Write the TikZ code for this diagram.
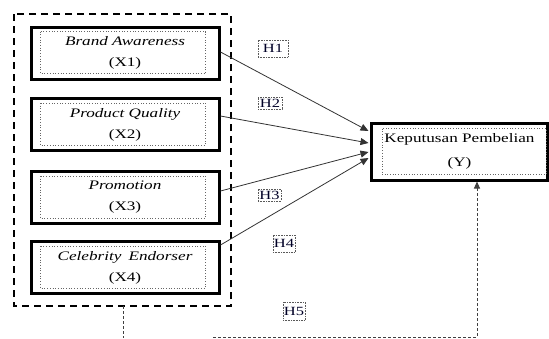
\documentclass[tikz,border=0pt]{standalone}
\usepackage{fontspec}
\setmainfont{Liberation Serif}
\usepackage{graphicx}
\usetikzlibrary{calc,arrows.meta}
\newcommand\widetxt[1]{\scalebox{1.32}[1]{#1}}
\tikzset{
  varbox/.style={draw=black,line width=3pt,minimum width=188pt,minimum height=52pt,inner sep=0pt,
     align=center,font=\fontsize{13}{21}\selectfont},
  ybox/.style={draw=black,line width=3pt,minimum width=176pt,minimum height=57pt,inner sep=0pt,
     align=center,font=\fontsize{13}{24}\selectfont},
  innerdot/.style={draw=gray!80!black,line width=0.7pt,dotted},
  hbox/.style={draw=gray!70!black,line width=0.6pt,densely dotted,inner sep=1pt,font=\fontsize{12.5}{13}\selectfont,text=black!85!blue},
  hyp/.style={draw=black!80,line width=0.8pt,-{Triangle[length=8pt,width=7pt]}},
  grp/.style={draw=black,line width=2pt,dash pattern=on 7pt off 5pt},
  med/.style={draw=black!75,line width=1pt,dash pattern=on 3pt off 2pt},
}
\begin{document}
\begin{tikzpicture}[x=1pt,y=-1pt]
\useasboundingbox (0,0) rectangle (549,338);
% group box
\draw[grp] (14,14) rectangle (231,306);
\coordinate (gb) at (123,306);
% variable boxes
\node[varbox] (b1) at (125,53) {\widetxt{\itshape Brand Awareness}\\\widetxt{(X1)}};
\node[varbox] (b2) at (125,124.5) {\widetxt{\itshape Product Quality}\\\widetxt{(X2)}};
\node[varbox] (b3) at (125,197.5) {\widetxt{\itshape Promotion}\\\widetxt{(X3)}};
\node[varbox] (b4) at (125,267.5) {\widetxt{\itshape Celebrity\, Endorser}\\\widetxt{(X4)}};
\foreach \b in {b1,b2,b3,b4}{
  \draw[innerdot] ($(\b.north west)+(11,6)$) rectangle ($(\b.south east)+(-15,-7)$);
}
% dependent box
\node[ybox] (y) at (459.5,151.5) {\widetxt{Keputusan Pembelian}\\\widetxt{(Y)}};
\draw[innerdot] ($(y.north west)+(12,7)$) rectangle ($(y.south east)+(-3,-7)$);
% hypothesis arrows
\draw[hyp] ([yshift=1pt]b1.east) -- ([yshift=20.5pt,xshift=-1.5pt]y.west);
\draw[hyp] ([yshift=8.5pt]b2.east) -- ([yshift=8.5pt,xshift=-1.5pt]y.west);
\draw[hyp] ([yshift=6.5pt]b3.east) -- ([yshift=-0.5pt,xshift=-1.5pt]y.west);
\draw[hyp] ([yshift=22.5pt]b4.east) -- ([yshift=-6.5pt,xshift=-1.5pt]y.west);
% simultaneous (dashed) connector
\coordinate (gd) at (123,338);
\coordinate (hs) at (213,337);
\coordinate (hc) at (477,337);
\draw[med] (gb) -- (gd);
\draw[med,-{Triangle[length=7pt,width=6pt]}] (hs) -- (hc) -- (hc |- y.south);
% hypothesis labels
\node[hbox,minimum width=30pt,minimum height=17pt] (h1) at (273,48.5) {\widetxt{H1}};
\node[hbox,minimum width=24pt,minimum height=12pt] (h2) at (270,103) {\widetxt{H2}};
\node[hbox,minimum width=23pt,minimum height=12pt] (h3) at (269.5,195) {\widetxt{H3}};
\node[hbox,minimum width=22pt,minimum height=17pt] (h4) at (284,243.5) {\widetxt{H4}};
\node[hbox,minimum width=22pt,minimum height=18pt] (h5) at (294,311) {\widetxt{H5}};
\end{tikzpicture}
\end{document}
